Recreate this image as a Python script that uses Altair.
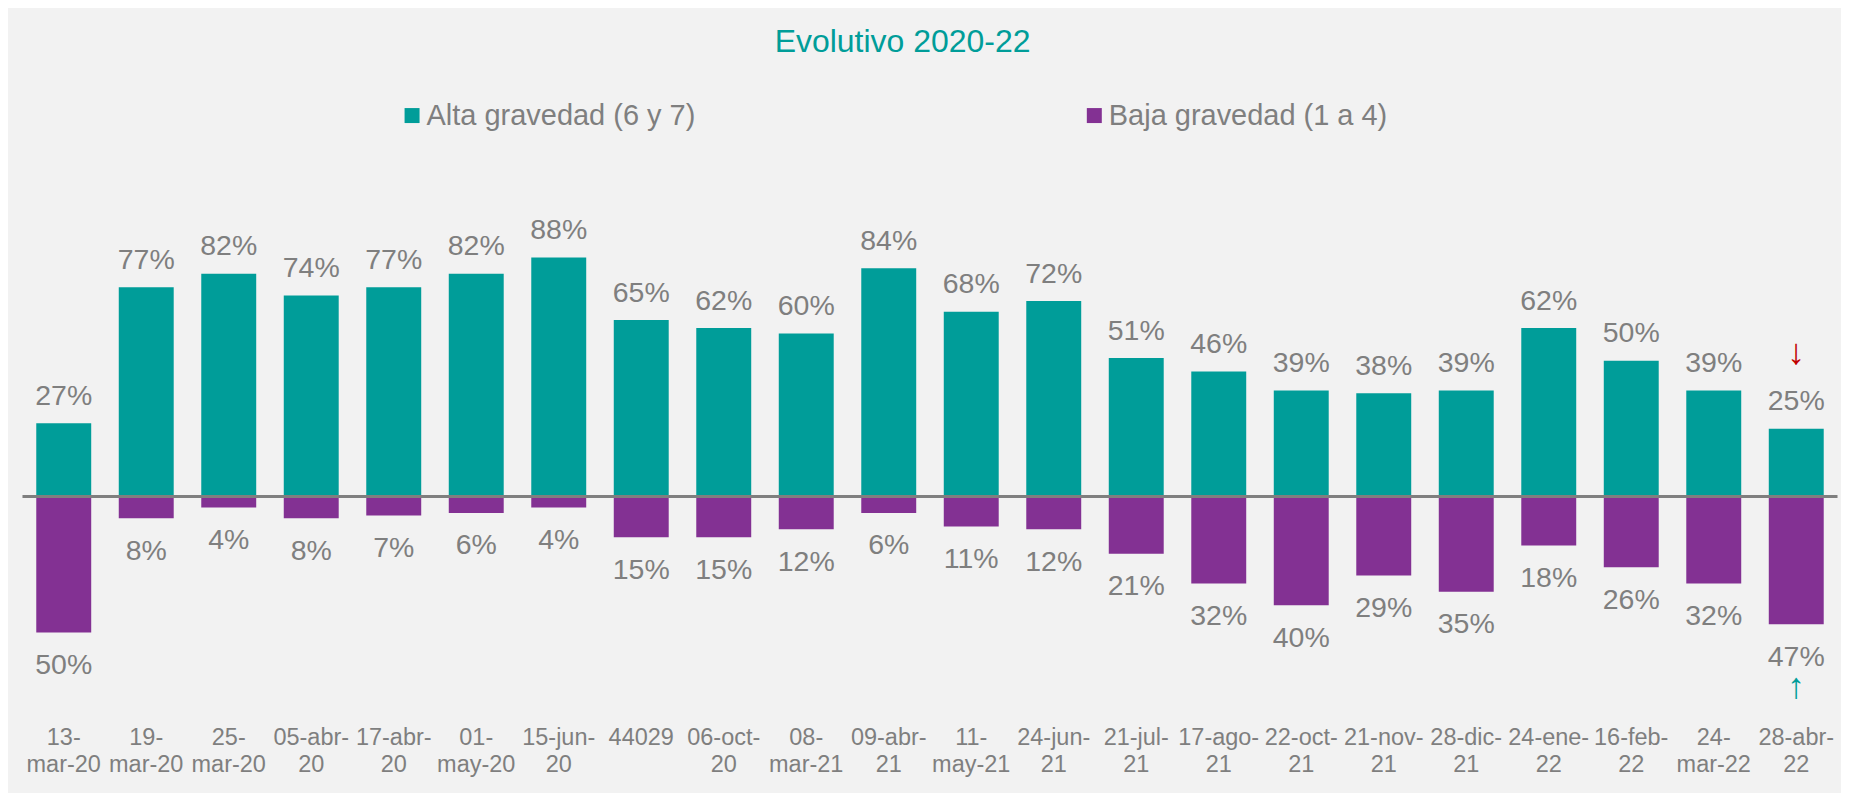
import altair as alt
import pandas as pd

# ---- data ----
categories = [
    "13-\nmar-20", "19-\nmar-20", "25-\nmar-20", "05-abr-\n20", "17-abr-\n20",
    "01-\nmay-20", "15-jun-\n20", "44029", "06-oct-\n20", "08-\nmar-21",
    "09-abr-\n21", "11-\nmay-21", "24-jun-\n21", "21-jul-\n21", "17-ago-\n21",
    "22-oct-\n21", "21-nov-\n21", "28-dic-\n21", "24-ene-\n22", "16-feb-\n22",
    "24-\nmar-22", "28-abr-\n22",
]
alta = [27, 77, 82, 74, 77, 82, 88, 65, 62, 60, 84, 68, 72, 51, 46, 39, 38, 39, 62, 50, 39, 25]
baja = [50, 8, 4, 8, 7, 6, 4, 15, 15, 12, 6, 11, 12, 21, 32, 40, 29, 35, 18, 26, 32, 47]
series_names = ["Alta gravedad (6 y 7)", "Baja gravedad (1 a 4)"]

# annotation arrows on the last date
arrow_cats = ["28-abr-\n22", "28-abr-\n22"]
arrow_vals = [25, -47]
arrow_text = ["↓", "↑"]
arrow_kind = ["down", "up"]

TEAL = "#009d99"
PURPLE = "#833193"
GRAY = "#7f7f7f"
RED = "#c00000"
FONT = "Liberation Sans"

rows = []
for c, a, b in zip(categories, alta, baja):
    rows.append({"cat": c, "series": series_names[0], "value": a, "label": f"{a}%"})
    rows.append({"cat": c, "series": series_names[1], "value": -b, "label": f"{b}%"})
df = pd.DataFrame(rows)

arrows = pd.DataFrame({"cat": arrow_cats, "value": arrow_vals, "txt": arrow_text, "kind": arrow_kind})

x_enc = alt.X(
    "cat:N",
    sort=categories,
    title=None,
    scale=alt.Scale(paddingInner=0.334, paddingOuter=0.167),
    axis=alt.Axis(
        orient="bottom", domain=False, ticks=False, tickSize=0, grid=False,
        labelAngle=0, labelFont=FONT, labelFontSize=23.5, labelColor=GRAY,
        labelPadding=11.5, labelBaseline="top", labelLineHeight=27,
        labelExpr="split(datum.label, '\\n')", labelLimit=200, labelOverlap=False,
    ),
)
y_enc = alt.Y("value:Q", scale=alt.Scale(domain=[-80, 128], nice=False, zero=False), axis=None)

base = alt.Chart(df)

bars = base.mark_bar().encode(
    x=x_enc,
    y=y_enc,
    y2=alt.datum(0),
    color=alt.Color(
        "series:N",
        scale=alt.Scale(domain=series_names, range=[TEAL, PURPLE]),
        legend=alt.Legend(
            orient="none", legendX=375.5, legendY=-48, direction="horizontal",
            title=None, symbolType="square", symbolSize=225, symbolStrokeWidth=0,
            labelFont=FONT, labelFontSize=29, labelColor=GRAY, labelOffset=0,
            columnPadding=384, labelLimit=600,
        ),
    ),
)

zero = alt.Chart(pd.DataFrame({"v": [0]})).mark_rule(color=GRAY, strokeWidth=3).encode(
    y=alt.Y("v:Q", scale=alt.Scale(domain=[-80, 128], nice=False, zero=False), axis=None)
)

lab_top = base.transform_filter(alt.datum.value >= 0).mark_text(
    font=FONT, fontSize=28.5, color=GRAY, baseline="alphabetic", dy=-18.4
).encode(x=alt.X("cat:N", sort=categories), y="value:Q", text="label:N")

lab_bot = base.transform_filter(alt.datum.value < 0).mark_text(
    font=FONT, fontSize=28.5, color=GRAY, baseline="top", dy=18.5
).encode(x=alt.X("cat:N", sort=categories), y="value:Q", text="label:N")

arr_down = alt.Chart(arrows).transform_filter(alt.datum.kind == "down").mark_text(
    font=FONT, fontSize=36, color=RED, baseline="middle", dy=-76
).encode(x=alt.X("cat:N", sort=categories), y="value:Q", text="txt:N")

arr_up = alt.Chart(arrows).transform_filter(alt.datum.kind == "up").mark_text(
    font=FONT, fontSize=36, color=TEAL, baseline="middle", dy=63
).encode(x=alt.X("cat:N", sort=categories), y="value:Q", text="txt:N")

chart = alt.layer(bars, zero, lab_top, lab_bot, arr_down, arr_up).properties(
    width=1817,
    height=565.8,
    background="#f2f2f2",
    padding={"left": 14.5, "top": 140.5, "right": 3.5, "bottom": 78.7},
    autosize=alt.AutoSizeParams(type="none"),
    title=alt.TitleParams(
        "Evolutivo 2020-22", font=FONT, fontSize=32, fontWeight="normal",
        color=TEAL, anchor="middle", frame="group", baseline="alphabetic",
        offset=17, dx=-27.5,
    ),
).configure_view(strokeWidth=0)

chart.save("out.html", embed_options={"renderer": "svg", "actions": False})
